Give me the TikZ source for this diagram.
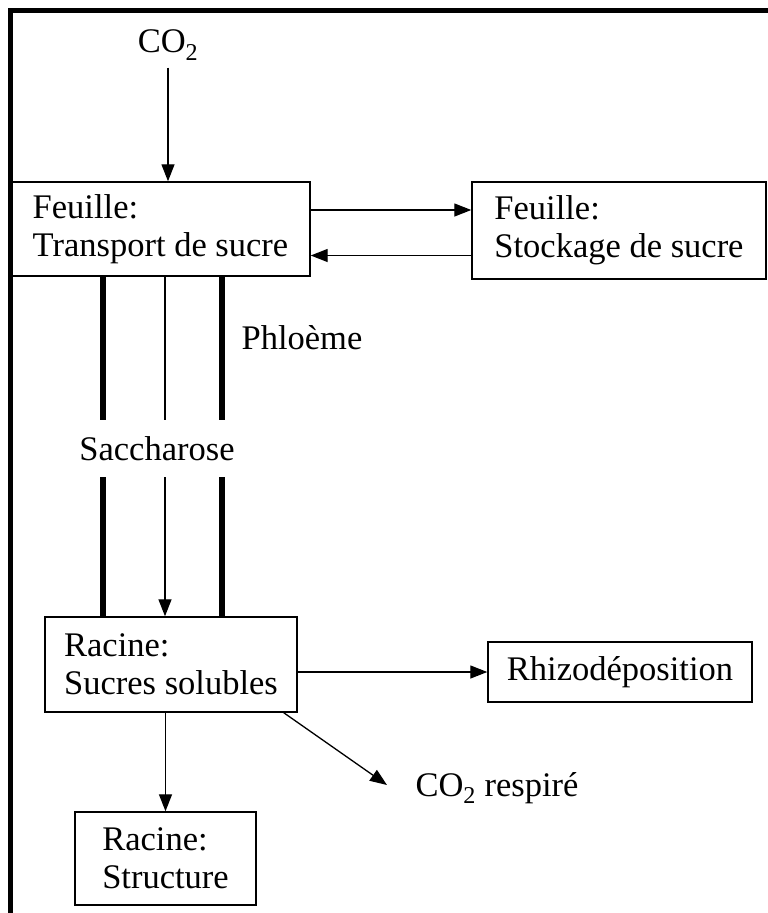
\documentclass[tikz,border=0pt]{standalone}
\usepackage{fontspec}
\setmainfont{Liberation Serif}
\usetikzlibrary{arrows.meta,positioning,calc}

\begin{document}
\begin{tikzpicture}[x=1pt,y=-1pt,every node/.style={font=\fontsize{34.5}{38}\selectfont},
  box/.style={draw,line width=1.4pt,inner sep=0pt,align=left},
  flow/.style={line width=1.3pt,-{Triangle[length=17pt,width=13pt]}},
  tube/.style={line width=6pt}]
  \useasboundingbox (0,0) rectangle (768,913);
  \draw[line width=5pt] (10,913) -- (10,10) -- (768,10);
  % boxes
  \node[box,minimum width=299pt,minimum height=94pt] (leaftransport) at (160.5,229) {Feuille:\\Transport de sucre};
  \node[box,minimum width=294pt,minimum height=97pt] (leafstock) at (619,230.5) {Feuille:\\Stockage de sucre};
  \node[box,minimum width=252pt,minimum height=95pt] (rootsugar) at (171,664.5) {Racine:\\Sucres solubles};
  \node[box,minimum width=264pt,minimum height=60pt] (rhizo) at (620,672) {Rhizodéposition};
  \node[box,minimum width=181pt,minimum height=93pt] (rootstruct) at (165.5,858.5) {Racine:\\Structure};
  % labels
  \node (co2in) at (168,45) {CO\textsubscript{2}};
  \node (phloem) at (302,338) {Phloème};
  \node[inner sep=0pt,minimum height=57pt] (sucrose) at (157,448.5) {Saccharose};
  \node (co2out) at (497,788) {CO\textsubscript{2} respiré};
  \coordinate (co2tip) at (387,785);
  \coordinate (tubeL) at (103,0);
  \coordinate (tubeM) at (165,0);
  \coordinate (tubeR) at (222,0);
  % phloem
  \foreach \t in {tubeL,tubeR}{
    \draw[tube] (\t |- leaftransport.south) -- (\t |- sucrose.north);
    \draw[tube] (\t |- sucrose.south) -- (\t |- rootsugar.north);
  }
  \draw[line width=1.3pt] (tubeM |- leaftransport.south) -- (tubeM |- sucrose.north);
  \draw[flow] (tubeM |- sucrose.south) -- (tubeM |- rootsugar.north);
  % flows
  \draw[flow] ([yshift=-4pt]co2in.south) -- (co2in.south |- leaftransport.north);
  \draw[flow] ([yshift=19pt]leaftransport.east) -- ([yshift=19pt]leaftransport.east -| leafstock.west);
  \draw[flow] ([yshift=-25pt]leafstock.west) -- ([yshift=-25pt]leafstock.west -| leaftransport.east);
  \draw[flow] (rootsugar.east |- rhizo.west) -- (rhizo.west);
  \draw[flow] ([xshift=-14pt]rootsugar.south east) -- (co2tip);
  \draw[flow] (rootstruct.north |- rootsugar.south) -- (rootstruct.north);
\end{tikzpicture}
\end{document}
